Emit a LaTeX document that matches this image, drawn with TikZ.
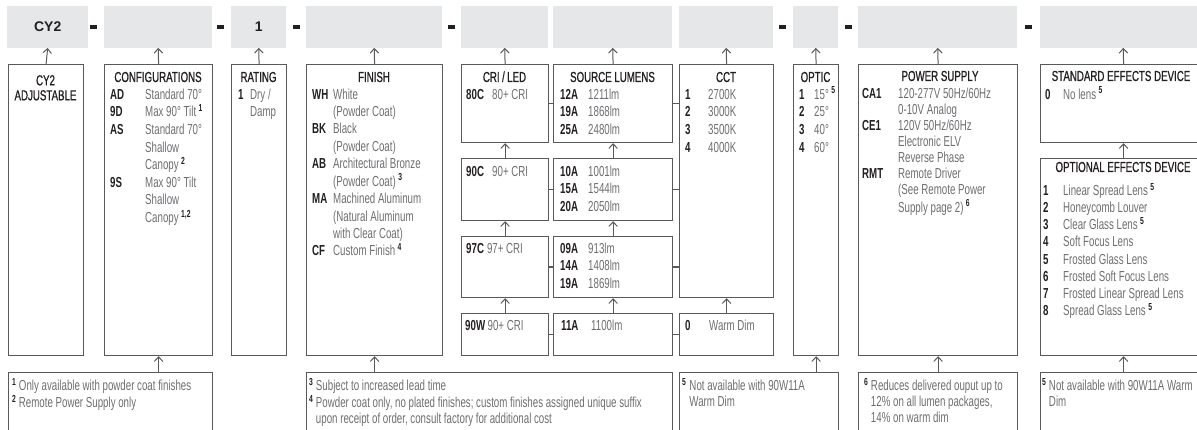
\documentclass[tikz,border=0pt]{standalone}
\usepackage{fontspec}
\setmainfont{Liberation Sans}[FakeStretch=0.67]
\newfontfamily\widefont{Liberation Sans}
\newfontfamily\medfont{Liberation Sans}[FakeStretch=0.67,FakeBold=0.9]
\usepackage{array}
\usetikzlibrary{arrows.meta,calc,positioning}
\definecolor{ink}{HTML}{231F20}
\definecolor{txtgrey}{HTML}{6D6E71}
\definecolor{linegrey}{HTML}{58595B}
\definecolor{fillgrey}{HTML}{E6E7E8}
\newcommand{\cd}[1]{\textcolor{ink}{\bfseries #1}}
\newcommand{\sps}[1]{\textsuperscript{\textcolor{ink}{\bfseries #1}}}
\tikzset{
    slot/.style={fill=fillgrey,anchor=north west,inner sep=0pt,minimum height=41.5,
        text=ink,font=\widefont\bfseries\fontsize{14}{16}\selectfont},
    dashbar/.style={fill=ink,inner sep=0pt,minimum width=7,minimum height=4},
    codebox/.style={draw=linegrey,line width=1.2pt,anchor=north west,inner sep=0pt},
    boxtitle/.style={anchor=base,inner sep=0pt,text=ink,font=\medfont\fontsize{14.5}{15}\selectfont},
    boxtext/.style={anchor=north west,inner sep=0pt,text=txtgrey,font=\fontsize{14.5}{17.6}\selectfont},
    notetext/.style={anchor=north west,inner sep=0pt,text=txtgrey,font=\fontsize{14.5}{16}\selectfont},
    uparrow/.style={draw=linegrey,line width=1pt,-{Straight Barb[length=4.5pt,width=8.5pt]}},
    joinline/.style={draw=linegrey,line width=1.2pt}
}
\begin{document}
\begin{tikzpicture}[x=1pt,y=-1pt]
    \useasboundingbox (0,0) rectangle (1197,430);

    % grey code slots
    \node[slot,minimum width=81]  (sCY)  at (7,6)    {CY2};
    \node[slot,minimum width=108] (sCfg) at (104,6)  {};
    \node[slot,minimum width=55]  (sRat) at (231,6)  {1};
    \node[slot,minimum width=136] (sFin) at (306,6)  {};
    \node[slot,minimum width=87]  (sCri) at (461,6)  {};
    \node[slot,minimum width=119] (sLum) at (553,6)  {};
    \node[slot,minimum width=94]  (sCct) at (679,6)  {};
    \node[slot,minimum width=45]  (sOpt) at (793,6)  {};
    \node[slot,minimum width=159] (sPow) at (858,6)  {};
    \node[slot,minimum width=166] (sEff) at (1040,6) {};

    % dashes between slots
    \node[dashbar] (d1) at (93.7,27)  {};
    \node[dashbar] (d2) at (220.3,27) {};
    \node[dashbar] (d3) at (296,27)   {};
    \node[dashbar] (d4) at (451.3,27) {};
    \node[dashbar] (d5) at (782,27)   {};
    \node[dashbar] (d6) at (848.5,27) {};
    \node[dashbar] (d7) at (1028.7,27) {};

    % option boxes
    \node[codebox,minimum width=75,minimum height=291]  (bCY)  at (8,64)   {};
    \node[codebox,minimum width=108,minimum height=291] (bCfg) at (104,64) {};
    \node[codebox,minimum width=55,minimum height=291]  (bRat) at (231,64) {};
    \node[codebox,minimum width=136,minimum height=291] (bFin) at (306,64) {};
    \node[codebox,minimum width=87,minimum height=78]   (bCri1) at (461,64)  {};
    \node[codebox,minimum width=87,minimum height=62]   (bCri2) at (461,158) {};
    \node[codebox,minimum width=87,minimum height=61]   (bCri3) at (461,236) {};
    \node[codebox,minimum width=87,minimum height=42]   (bCri4) at (461,313) {};
    \node[codebox,minimum width=119,minimum height=78]  (bLum1) at (553,64)  {};
    \node[codebox,minimum width=119,minimum height=62]  (bLum2) at (553,158) {};
    \node[codebox,minimum width=119,minimum height=61]  (bLum3) at (553,236) {};
    \node[codebox,minimum width=119,minimum height=42]  (bLum4) at (553,313) {};
    \node[codebox,minimum width=94,minimum height=233]  (bCct)  at (679,64)  {};
    \node[codebox,minimum width=94,minimum height=42]   (bWarm) at (679,313) {};
    \node[codebox,minimum width=45,minimum height=291]  (bOpt)  at (793,64)  {};
    \node[codebox,minimum width=159,minimum height=291] (bPow)  at (858,64)  {};
    \node[codebox,minimum width=166,minimum height=78]  (bEff1) at (1040,64) {};
    \node[codebox,minimum width=166,minimum height=197] (bEff2) at (1040,158) {};

    % footnote boxes
    \node[codebox,minimum width=204,minimum height=70] (fn1) at (8,372)    {};
    \node[codebox,minimum width=366,minimum height=70] (fn2) at (306,372)  {};
    \node[codebox,minimum width=159,minimum height=70] (fn3) at (679,372)  {};
    \node[codebox,minimum width=159,minimum height=70] (fn4) at (858,372)  {};
    \node[codebox,minimum width=166,minimum height=70] (fn5) at (1040,372) {};

    % box titles
    \node[boxtitle,anchor=north,align=center] (tCY) at (45.5,75) {CY2\\ADJUSTABLE};
    \node[boxtitle] (tCfg) at (158,82)    {CONFIGURATIONS};
    \node[boxtitle] (tRat) at (258.5,82)  {RATING};
    \node[boxtitle] (tFin) at (374,82)    {FINISH};
    \node[boxtitle] (tCri) at (504.5,82)  {CRI\,/\,LED};
    \node[boxtitle] (tLum) at (612.5,82)  {SOURCE LUMENS};
    \node[boxtitle] (tCct) at (726,82)    {CCT};
    \node[boxtitle] (tOpt) at (815.5,82)  {OPTIC};
    \node[boxtitle] (tPow) at (940,81)    {POWER SUPPLY};
    \node[boxtitle] (tEff1) at (1121,81)  {STANDARD EFFECTS DEVICE};
    \node[boxtitle] (tEff2) at (1123,172) {OPTIONAL EFFECTS DEVICE};

    % box contents
    \node[boxtext] (xCfg) at (110,86.7) {\begin{tabular}{@{}p{35pt}@{}l@{}}
        \cd{AD} & Standard 70°\\
        \cd{9D} & Max 90° Tilt\,\sps{1}\\
        \cd{AS} & Standard 70°\\
                & Shallow\\
                & Canopy\,\sps{2}\\
        \cd{9S} & Max 90° Tilt\\
                & Shallow\\
                & Canopy\,\sps{1,2}
    \end{tabular}};
    \node[boxtext] (xRat) at (238,86.7) {\begin{tabular}{@{}p{12pt}@{}l@{}}
        \cd{1} & Dry /\\
               & Damp
    \end{tabular}};
    \node[boxtext,font=\fontsize{14.5}{17.4}\selectfont] (xFin) at (312,86.7) {\begin{tabular}{@{}p{21pt}@{}l@{}}
        \cd{WH} & White\\
                & (Powder Coat)\\
        \cd{BK} & Black\\
                & (Powder Coat)\\
        \cd{AB} & Architectural Bronze\\
                & (Powder Coat)\,\sps{3}\\
        \cd{MA} & Machined Aluminum\\
                & (Natural Aluminum\\
                & with Clear Coat)\\
        \cd{CF} & Custom Finish\,\sps{4}
    \end{tabular}};
    \node[boxtext] (xCri1) at (466,86.7) {\begin{tabular}{@{}p{26pt}@{}l@{}}
        \cd{80C} & 80+ CRI
    \end{tabular}};
    \node[boxtext] (xCri2) at (466,163.5) {\begin{tabular}{@{}p{26pt}@{}l@{}}
        \cd{90C} & 90+ CRI
    \end{tabular}};
    \node[boxtext] (xCri3) at (466,240.5) {\begin{tabular}{@{}l@{\hspace{3pt}}l@{}}
        \cd{97C} & 97+ CRI
    \end{tabular}};
    \node[boxtext] (xCri4) at (465,317.5) {\begin{tabular}{@{}l@{\hspace{2.5pt}}l@{}}
        \cd{90W} & 90+ CRI
    \end{tabular}};
    \node[boxtext] (xLum1) at (560,86.7) {\begin{tabular}{@{}p{28pt}@{}l@{}}
        \cd{12A} & 1211lm\\
        \cd{19A} & 1868lm\\
        \cd{25A} & 2480lm
    \end{tabular}};
    \node[boxtext] (xLum2) at (560,163.5) {\begin{tabular}{@{}p{28pt}@{}l@{}}
        \cd{10A} & 1001lm\\
        \cd{15A} & 1544lm\\
        \cd{20A} & 2050lm
    \end{tabular}};
    \node[boxtext] (xLum3) at (560,240.5) {\begin{tabular}{@{}p{28pt}@{}l@{}}
        \cd{09A} & 913lm\\
        \cd{14A} & 1408lm\\
        \cd{19A} & 1869lm
    \end{tabular}};
    \node[boxtext] (xLum4) at (561,317.5) {\begin{tabular}{@{}p{30pt}@{}l@{}}
        \cd{11A} & 1100lm
    \end{tabular}};
    \node[boxtext] (xCct) at (685,86.7) {\begin{tabular}{@{}p{23pt}@{}l@{}}
        \cd{1} & 2700K\\
        \cd{2} & 3000K\\
        \cd{3} & 3500K\\
        \cd{4} & 4000K
    \end{tabular}};
    \node[boxtext] (xWarm) at (685,317.5) {\begin{tabular}{@{}p{24pt}@{}l@{}}
        \cd{0} & Warm Dim
    \end{tabular}};
    \node[boxtext] (xOpt) at (799,86.7) {\begin{tabular}{@{}p{15pt}@{}l@{}}
        \cd{1} & 15°\,\sps{5}\\
        \cd{2} & 25°\\
        \cd{3} & 40°\\
        \cd{4} & 60°
    \end{tabular}};
    \node[boxtext,font=\fontsize{14.5}{16.1}\selectfont] (xPow) at (862,86.8) {\begin{tabular}{@{}p{36pt}@{}l@{}}
        \cd{CA1} & 120-277V 50Hz/60Hz\\
                 & 0-10V Analog\\
        \cd{CE1} & 120V 50Hz/60Hz\\
                 & Electronic ELV\\
                 & Reverse Phase\\
        \cd{RMT} & Remote Driver\\
                 & (See Remote Power\\
                 & Supply page 2)\,\sps{6}
    \end{tabular}};
    \node[boxtext] (xEff1) at (1045,86.7) {\begin{tabular}{@{}p{18pt}@{}l@{}}
        \cd{0} & No lens\,\sps{5}
    \end{tabular}};
    \node[boxtext,font=\fontsize{14.5}{17.1}\selectfont] (xEff2) at (1043,183) {\begin{tabular}{@{}p{20pt}@{}l@{}}
        \cd{1} & Linear Spread Lens\,\sps{5}\\
        \cd{2} & Honeycomb Louver\\
        \cd{3} & Clear Glass Lens\,\sps{5}\\
        \cd{4} & Soft Focus Lens\\
        \cd{5} & Frosted Glass Lens\\
        \cd{6} & Frosted Soft Focus Lens\\
        \cd{7} & Frosted Linear Spread Lens\\
        \cd{8} & Spread Glass Lens\,\sps{5}
    \end{tabular}};

    % footnote texts
    \node[notetext] (xFn1) at (12,378) {\begin{tabular}{@{}l@{\hspace{2.5pt}}l@{}}
        \sps{1} & Only available with powder coat finishes\\
        \sps{2} & Remote Power Supply only
    \end{tabular}};
    \node[notetext] (xFn2) at (309,378) {\begin{tabular}{@{}l@{\hspace{2.5pt}}l@{}}
        \sps{3} & Subject to increased lead time\\
        \sps{4} & Powder coat only, no plated finishes; custom finishes assigned unique suffix\\
                & upon receipt of order, consult factory for additional cost
    \end{tabular}};
    \node[notetext] (xFn3) at (682,378) {\begin{tabular}{@{}l@{\hspace{3pt}}l@{}}
        \sps{5} & Not available with 90W11A\\
                & Warm Dim
    \end{tabular}};
    \node[notetext] (xFn4) at (864,378) {\begin{tabular}{@{}l@{\hspace{2.5pt}}l@{}}
        \sps{6} & Reduces delivered ouput up to\\
                & 12\% on all lumen packages,\\
                & 14\% on warm dim
    \end{tabular}};
    \node[notetext] (xFn5) at (1042,378) {\begin{tabular}{@{}l@{\hspace{2.5pt}}l@{}}
        \sps{5} & Not available with 90W11A Warm\\
                & Dim
    \end{tabular}};

    % arrows up to the code slots
    \draw[uparrow] (bCY.north)   -- (sCY.south);
    \draw[uparrow] (bCfg.north)  -- (sCfg.south);
    \draw[uparrow] (bRat.north)  -- (sRat.south);
    \draw[uparrow] (bFin.north)  -- (sFin.south);
    \draw[uparrow] (bCri1.north) -- (sCri.south);
    \draw[uparrow] (bLum1.north) -- (sLum.south);
    \draw[uparrow] (bCct.north)  -- (sCct.south);
    \draw[uparrow] (bOpt.north)  -- (sOpt.south);
    \draw[uparrow] (bPow.north)  -- (sPow.south);
    \draw[uparrow] (bEff1.north) -- (sEff.south);

    % stacked choices
    \draw[uparrow] (bCri2.north) -- (bCri1.south);
    \draw[uparrow] (bCri3.north) -- (bCri2.south);
    \draw[uparrow] (bCri4.north) -- (bCri3.south);
    \draw[uparrow] (bLum2.north) -- (bLum1.south);
    \draw[uparrow] (bLum3.north) -- (bLum2.south);
    \draw[uparrow] (bLum4.north) -- (bLum3.south);
    \draw[uparrow] (bWarm.north) -- (bCct.south);
    \draw[uparrow] (bEff2.north) -- (bEff1.south);

    % CRI - lumens - CCT links
    \draw[joinline] (bCri1.east) -- (bLum1.west);
    \draw[joinline] (bCri2.east) -- (bLum2.west);
    \draw[joinline] (bCri3.east) -- (bLum3.west);
    \draw[joinline] (bCri4.east) -- (bLum4.west);
    \draw[joinline] (bLum1.east) -- (bLum1.east -| bCct.west);
    \draw[joinline] (bLum2.east) -- (bLum2.east -| bCct.west);
    \draw[joinline] (bLum3.east) -- (bLum3.east -| bCct.west);
    \draw[joinline] (bLum4.east) -- (bWarm.west);

    % footnote arrows
    \draw[uparrow] (bCfg.south |- fn1.north)  -- (bCfg.south);
    \draw[uparrow] (bFin.south |- fn2.north)  -- (bFin.south);
    \draw[uparrow] (bOpt.south |- fn3.north)  -- (bOpt.south);
    \draw[uparrow] (bPow.south |- fn4.north)  -- (bPow.south);
    \draw[uparrow] (bEff2.south |- fn5.north) -- (bEff2.south);
\end{tikzpicture}
\end{document}
